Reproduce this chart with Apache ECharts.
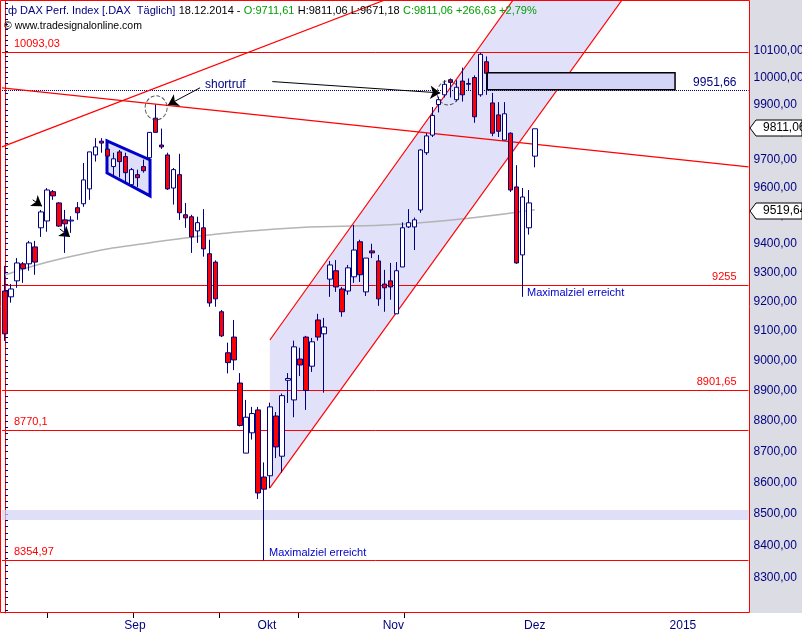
<!DOCTYPE html>
<html><head><meta charset="utf-8">
<script src="https://cdn.jsdelivr.net/npm/echarts@6/dist/echarts.min.js"></script>
<style>html,body{margin:0;padding:0;background:#fff}#c{width:802px;height:635px}</style>
</head><body><div id="c"></div>
<script>
// OHLC: [open, close, low, high]
const candles = [
[9236,9090,9066,9323],[9216,9243,9196,9260],[9271,9333,9247,9350],[9330,9313,9264,9336],[9330,9403,9306,9410],
[9389,9336,9292,9410],[9456,9512,9424,9519],[9480,9590,9442,9597],[9584,9569,9555,9590],[9544,9462,9459,9547],
[9484,9470,9368,9519],[9480,9483,9438,9497],[9527,9509,9484,9547],[9541,9626,9530,9687],[9594,9727,9555,9727],
[9716,9745,9692,9777],[9766,9759,9724,9777],[9737,9712,9699,9762],[9674,9702,9639,9724],[9727,9692,9635,9734],
[9710,9652,9617,9724],[9609,9663,9601,9669],[9645,9634,9601,9663],[9674,9659,9652,9699],[9706,9798,9692,9798],
[9850,9798,9798,9900],[9752,9745,9738,9812],[9716,9594,9590,9724],[9597,9663,9538,9669],[9645,9509,9484,9720],
[9502,9491,9456,9544],[9495,9424,9368,9502],[9445,9474,9403,9495],[9456,9382,9355,9522],[9365,9195,9182,9414],
[9336,9209,9182,9342],[9165,9083,9079,9171],[9026,8993,8957,9060],[9079,9002,8968,9137],[8925,8785,8782,8958],
[8695,8812,8695,8869],[8761,8824,8739,8846],[8836,8567,8548,8846],[8618,8579,8354.97,8665],[8622,8846,8582,8860],
[8816,8715,8679,8829],[8685,8883,8632,8890],[8934,8940,8859,8958],[8869,9046,8812,9067],[9005,8985,8948,9043],
[9079,8900,8836,9083],[8981,9063,8962,9076],[9137,9079,9067,9158],[9090,9113,8893,9144],[9277,9326,9216,9340],
[9306,9250,9233,9343],[9243,9165,9148,9250],[9236,9316,9223,9326],[9285,9378,9264,9466],[9407,9292,9267,9414],
[9233,9350,9219,9350],[9375,9368,9350,9400],[9340,9209,9185,9361],[9260,9247,9165,9309],[9271,9250,9206,9333],
[9158,9306,9158,9336],[9319,9456,9319,9475],[9459,9474,9455,9522],[9459,9484,9378,9492],[9519,9734,9509,9737],
[9724,9785,9716,9795],[9788,9860,9781,9891],[9900,9918,9871,9929],[9936,9975,9926,9990],[9992,9982,9926,9997],
[9918,9964,9911,9990],[9987,9936,9911,10037],[9975,9978,9954,9997],[10000,9855,9833,10008],[9936,10087,9929,10093],
[10059,10016,9936,10079],[9906,9795,9784,9943],[9862,9802,9781,9909],[9770,9866,9770,9909],[9795,9590,9583,9798],
[9601,9333,9330,9679],[9361,9565,9216,9597],[9456,9544,9432,9590],[9711.61,9811.06,9671.18,9811.06]
];
const totalSlots = 124;
const maPoints = [[0,9291],[10,9351],[23,9400],[45,9452],[67,9470],[88,9519.64]];
const hLevelsRed = [10093.03, 9255, 8901.65, 8770.1, 8354.97];
const hLevelsLabel = ['10093,03','9255','8901,65','8770,1','8354,97'];
const resistance = 9951.66;
const yTicks = [8300,8400,8500,8600,8700,8800,8900,9000,9100,9200,9300,9400,9500,9600,9700,9800,9900,10000,10100];
const monthLabels = ['Sep','Okt','Nov','Dez','2015'];
const monthPos = [21.6,43.5,64.5,88,112.6];
const monthTicks = [6.98,21.26,35.55,48.67,66.28];
// annotation shapes in (slot, value)
const channel = [[44,9069],[84.4,10293],[102.5,10293],[44,8583]];
const flag = [[16.94,9767],[24.09,9698],[24.09,9569],[16.94,9651]];
const box = [[80.1,10017.6],[111.3,9954.4]];
const trendDown = [[-0.5,9962],[123.5,9673]];
const trendUp = [[-0.5,9745],[63.1,10293]];
const circles = [[25.1,9888],[73.6,9943]];
const arrows = [[[32.4,9962],[27.1,9899]],[[44.4,9985],[72.3,9943]],[[4.6,9555],[6.15,9532]],[[9.1,9452],[10.8,9424]]];

const cats = [];
for (let i=0;i<totalSlots;i++) cats.push(String(i));
const fmt = v => v.toFixed(2).replace('.',',');
const minorTicks=[]; for(let v=8200;v<=10280;v+=20) minorTicks.push(v);

function poly(points, fill, stroke, lw){
  return {type:'custom', xAxisIndex:1, yAxisIndex:0, silent:true, z:1,
    data:[0], renderItem:(p,api)=>({type:'polygon', shape:{points:points.map(q=>api.coord(q))},
      style:{fill:fill, stroke:stroke, lineWidth:lw}})};
}
const chart = echarts.init(document.getElementById('c'));
chart.setOption({
  animation:false,
  backgroundColor:'#ffffff',
  textStyle:{fontFamily:'Liberation Sans, DejaVu Sans, sans-serif'},
  grid:{left:2, right:53.5, top:0, bottom:22, show:false, containLabel:false, outerBoundsMode:'none'},
  xAxis:[
    {type:'category', data:cats, boundaryGap:true, axisLine:{show:false}, axisTick:{show:false}, axisLabel:{show:false}, splitLine:{show:false}},
    {type:'value', min:-0.5, max:123.5, position:'bottom', axisLine:{show:false}, splitLine:{show:false},
      axisTick:{show:true, customValues:monthTicks, length:5, lineStyle:{color:'#000'}},
      axisLabel:{show:true, customValues:monthPos, margin:7, color:'#000080', fontSize:12,
        formatter:v=>{const k=monthPos.findIndex(p=>Math.abs(p-v)<0.01);return k>=0?monthLabels[k]:'';}}}
  ],
  yAxis:{type:'log', logBase:10, min:8192.5, max:10293, position:'right', scale:true,
    axisLine:{show:true, lineStyle:{color:'#ff0000', width:1}},
    axisTick:{show:true, customValues:minorTicks, length:3, lineStyle:{color:'#000080'}},
    axisLabel:{customValues:yTicks, formatter:v=>fmt(v), color:'#000080', fontSize:12, margin:5},
    splitLine:{show:false}, minorTick:{show:false}},
  graphic:[
    {type:'rect', shape:{x:750,y:0,width:52,height:613}, style:{fill:'#dcdce4'}, z:-10},
    {type:'rect', shape:{x:0.5,y:0.5,width:749,height:612}, style:{fill:'none', stroke:'#ff0000', lineWidth:1}, z:100},
    {type:'text', left:8, top:5, z:101, style:{rich:{n:{fill:'#000080',fontSize:11},k:{fill:'#000',fontSize:11},g:{fill:'#00a000',fontSize:11}},
      text:'{n|ф DAX Perf. Index [.DAX  Täglich]} {k|18.12.2014 -} {g|O:9711,61} {k|H:9811,06 L:9671,18} {g|C:9811,06 +266,63 +2,79%}'}},
    {type:'text', left:4, top:21, z:101, style:{text:'© www.tradesignalonline.com', fill:'#000', fontSize:10.5}},
    {type:'text', left:205, top:79, z:101, style:{text:'shortruf', fill:'#000080', fontSize:12}},
    {type:'text', left:527, top:287, z:101, style:{text:'Maximalziel erreicht', fill:'#0000cc', fontSize:11}},
    {type:'text', left:269, top:547, z:101, style:{text:'Maximalziel erreicht', fill:'#0000cc', fontSize:11}},
    {type:'polygon', z:102, shape:{points:[[750,128],[756,120],[802,120],[802,136],[756,136]]}, style:{fill:'#fff', stroke:'#000'}},
    {type:'text', left:763, top:122, z:103, style:{text:'9811,06', fill:'#000', fontSize:12}},
    {type:'polygon', z:102, shape:{points:[[750,211],[756,203],[802,203],[802,219],[756,219]]}, style:{fill:'#fff', stroke:'#000'}},
    {type:'text', left:763, top:205, z:103, style:{text:'9519,64', fill:'#000', fontSize:12}}
  ],
  series:[
    poly(channel,'rgba(200,200,245,0.55)',null,0),
    {type:'candlestick', xAxisIndex:0, yAxisIndex:0, data:candles, barWidth:5, z:5,
      itemStyle:{color:'#ffffff', color0:'#ff0000', borderColor:'#000080', borderColor0:'#000080', borderWidth:1},
      markLine:{silent:true, symbol:'none', animation:false,
        data:[
          ...hLevelsRed.map((v,i)=>({yAxis:v, lineStyle:{color:'#ff0000',width:1,type:'solid'},
            label:{show:true, formatter:hLevelsLabel[i], color:'#ff0000', fontSize:11,
              position:(i===1||i===2)?'insideEndTop':'insideStartTop', distance:[12,3]}})),
          {yAxis:resistance, lineStyle:{color:'#000080',width:1,type:'dotted'},
            label:{show:true, formatter:'9951,66', color:'#000080', fontSize:12, position:'insideEndTop', distance:[12,2]}}
        ]},
      markArea:{silent:true, itemStyle:{color:'rgba(210,210,245,0.7)'}, data:[[{yAxis:8481},{yAxis:8513}]]}
    },
    {type:'line', xAxisIndex:1, yAxisIndex:0, data:maPoints, smooth:true, symbol:'none', z:3,
      lineStyle:{color:'#b4b4b4', width:1.5}},
    poly(flag,'rgba(200,200,245,0.6)','#0000cc',3),
    {type:'custom', xAxisIndex:1, yAxisIndex:0, silent:true, z:6, data:[0],
      renderItem:(p,api)=>{const a=api.coord(box[0]), b=api.coord(box[1]);
        return {type:'rect', shape:{x:a[0],y:a[1],width:b[0]-a[0],height:b[1]-a[1]}, style:{fill:'#d4d4f8', stroke:'#000', lineWidth:1.5}};}},
    {type:'scatter', xAxisIndex:1, yAxisIndex:0, data:circles, symbol:'circle', symbolSize:[22,24], z:7,
      itemStyle:{color:'rgba(0,0,0,0)', borderColor:'#333', borderWidth:1, borderType:'dashed'}},
    {type:'line', xAxisIndex:1, yAxisIndex:0, data:[], z:8,
      markLine:{silent:true, animation:false, symbol:'none',
        data:[
          [{coord:trendDown[0], lineStyle:{color:'#ff0000',width:1.2,type:'solid'}},{coord:trendDown[1]}],
          [{coord:trendUp[0], lineStyle:{color:'#ff0000',width:1.2,type:'solid'}},{coord:trendUp[1]}],
          [{coord:channel[0], lineStyle:{color:'#ff0000',width:1.2,type:'solid'}},{coord:channel[1]}],
          [{coord:channel[3], lineStyle:{color:'#ff0000',width:1.2,type:'solid'}},{coord:channel[2]}],
          ...arrows.map(a=>[{coord:a[0], symbol:'none', lineStyle:{color:'#000',width:1,type:'solid'}},{coord:a[1], symbol:'arrow', symbolSize:10}])
        ], label:{show:false}}}
  ]
});
</script></body></html>
